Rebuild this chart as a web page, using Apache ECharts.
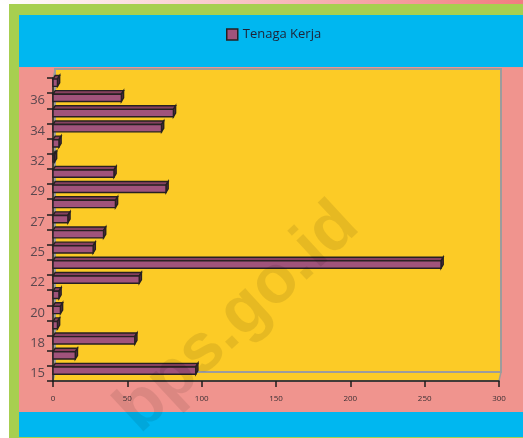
<!DOCTYPE html>
<html>
<head>
<meta charset="utf-8">
<script src="https://cdn.jsdelivr.net/npm/echarts@6/dist/echarts.min.js"></script>
<style>
  html, body { margin: 0; padding: 0; background: #ffffff; }
  #chart { width: 523px; height: 438px; }
</style>
</head>
<body>
<div id="chart"></div>
<script>
// Age groups (only every other one carries a tick label)
const categories = ['15', '16', '18', '19', '20', '21', '22', '23', '25', '26',
                    '27', '28', '29', '30', '32', '33', '34', '35', '36', '37'];
// Number of workers per group
const workers = [96, 15, 55, 3, 5, 4, 58, 261, 27, 34,
                 10, 42, 76, 41, 1, 4, 73, 81, 46, 3];
const seriesName = 'Tenaga Kerja';
const valueTicks = [0, 300, 50]; // min, max, interval

// Frame geometry of the pseudo-3D plot box
const FRONT = { left: 53, top: 78, right: 499, bottom: 381 };
const DEPTH = { dx: 2, dy: -9 };
const W = 523, H = 438;

const C = {
  green: '#A7CF50',
  salmon: '#F0948E',
  cyan: '#00B7F0',
  wall: '#FCCB26',
  wallEdge: '#9C9C9C',
  bar: '#A0537B',
  barTop: '#86415F',
  barSide: '#5C2A42',
  outline: '#262022'
};

const chart = echarts.init(document.getElementById('chart'), null, { renderer: 'canvas' });

const backWall = {
  left: FRONT.left + DEPTH.dx, top: FRONT.top + DEPTH.dy,
  right: FRONT.right + DEPTH.dx, bottom: FRONT.bottom + DEPTH.dy
};

const option = {
  backgroundColor: '#ffffff',
  animation: false,
  textStyle: { fontFamily: 'Open Sans, sans-serif' },
  legend: {
    top: 28,
    left: 226,
    padding: 0,
    itemWidth: 11,
    itemHeight: 11,
    itemGap: 10,
    textStyle: { fontSize: 13, color: '#1f2236', fontFamily: 'Open Sans, sans-serif' },
    data: [{
      name: seriesName,
      icon: 'rect',
      itemStyle: { color: C.bar, borderColor: C.outline, borderWidth: 1.5 }
    }]
  },
  grid: {
    left: FRONT.left,
    right: W - FRONT.right,
    top: FRONT.top,
    bottom: H - FRONT.bottom,
    containLabel: false
  },
  xAxis: {
    type: 'value',
    min: valueTicks[0],
    max: valueTicks[1],
    interval: valueTicks[2],
    axisLine: { show: true, lineStyle: { color: '#1c1c1c', width: 1.5 } },
    axisTick: { show: true, length: 6, lineStyle: { color: '#1c1c1c', width: 1.5 } },
    axisLabel: { fontSize: 8, color: '#3a3034', margin: 14 },
    splitLine: { show: false }
  },
  yAxis: {
    type: 'category',
    data: categories,
    boundaryGap: true,
    axisLine: { show: true, lineStyle: { color: '#1c1c1c', width: 1.5 } },
    axisTick: { show: true, length: 6, interval: 0, lineStyle: { color: '#1c1c1c', width: 1.5 } },
    axisLabel: { interval: 1, fontSize: 13, color: '#5a474e', margin: 8 },
    splitLine: { show: false }
  },
  graphic: [
    // page backdrop bands
    { type: 'rect', z: -10, silent: true, shape: { x: 0, y: 0, width: W, height: 4 },
      style: { fill: new echarts.graphic.LinearGradient(0, 0, 1, 0, [
        { offset: 0, color: '#ffffff' }, { offset: 1, color: '#F27C80' }]) } },
    { type: 'rect', z: -10, silent: true, shape: { x: 9, y: 4, width: W - 9, height: H - 4 },
      style: { fill: C.green } },
    { type: 'rect', z: -9, silent: true, shape: { x: 19, y: 15, width: W - 19, height: 422 },
      style: { fill: C.salmon } },
    { type: 'rect', z: -8, silent: true, shape: { x: 19, y: 15, width: W - 19, height: 52 },
      style: { fill: C.cyan } },
    { type: 'rect', z: -8, silent: true, shape: { x: 19, y: 412, width: W - 19, height: 25 },
      style: { fill: C.cyan } },
    // floor of the 3D box
    { type: 'polygon', z: -7, silent: true,
      shape: { points: [[FRONT.left, FRONT.bottom], [FRONT.right, FRONT.bottom],
                        [backWall.right, backWall.bottom], [backWall.left, backWall.bottom]] },
      style: { fill: C.wall, stroke: C.wallEdge, lineWidth: 1.5 } },
    // left side wall
    { type: 'polygon', z: -7, silent: true,
      shape: { points: [[FRONT.left, FRONT.top], [backWall.left, backWall.top],
                        [backWall.left, backWall.bottom], [FRONT.left, FRONT.bottom]] },
      style: { fill: C.wall, stroke: C.wallEdge, lineWidth: 1 } },
    // back wall
    { type: 'rect', z: -6, silent: true,
      shape: { x: backWall.left, y: backWall.top,
               width: backWall.right - backWall.left, height: backWall.bottom - backWall.top },
      style: { fill: C.wall, stroke: C.wallEdge, lineWidth: 2 } },
    // source watermark
    { type: 'text', z: 100, silent: true, x: 238, y: 318, rotation: Math.PI / 4.2,
      style: { text: 'bps.go.id', fill: 'rgba(0,0,0,0.085)', font: 'bold 68px "Liberation Sans", sans-serif',
               align: 'center', verticalAlign: 'middle' } }
  ],
  series: [{
    name: seriesName,
    type: 'custom',
    z: 5,
    itemStyle: { color: C.bar, borderColor: C.outline, borderWidth: 1.5 },
    encode: { x: 1, y: 0 },
    data: workers.map((v, i) => [i, v]),
    renderItem: function (params, api) {
      const idx = api.value(0);
      const base = api.coord([0, idx]);
      const end = api.coord([api.value(1), idx]);
      const x0 = base[0], x1 = end[0], cy = base[1];
      const fTop = cy - 6.5, fBot = cy + 0.8;
      const dx = 2.2, dy = -3.6;
      const line = { stroke: C.outline, lineWidth: 1.4, lineJoin: 'miter' };
      return {
        type: 'group',
        children: [
          { type: 'polygon',
            shape: { points: [[x0, fTop], [x1, fTop], [x1 + dx, fTop + dy], [x0 + dx, fTop + dy]] },
            style: Object.assign({ fill: C.barTop }, line) },
          { type: 'polygon',
            shape: { points: [[x1, fTop], [x1 + dx, fTop + dy], [x1 + dx, fBot + dy], [x1, fBot]] },
            style: Object.assign({ fill: C.barSide }, line) },
          { type: 'rect',
            shape: { x: x0, y: fTop, width: Math.max(x1 - x0, 0.5), height: fBot - fTop },
            style: Object.assign({ fill: C.bar }, line) }
        ]
      };
    }
  }]
};

chart.setOption(option);
</script>
</body>
</html>
